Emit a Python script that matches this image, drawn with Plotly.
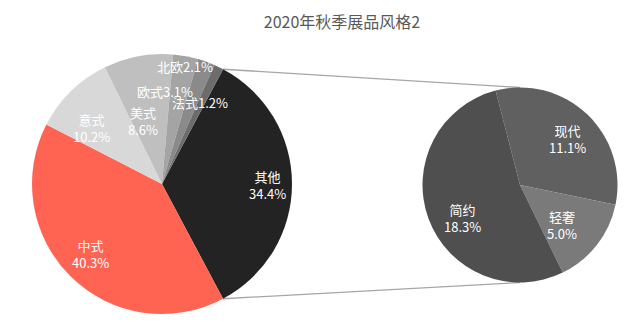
import math
import plotly.graph_objects as go

W, H = 640, 323

# Primary pie: 其他 is split out into the secondary pie
main_labels = ["其他", "中式", "意式", "美式", "欧式", "北欧", "法式"]
main_values = [34.4, 40.3, 10.2, 8.6, 3.1, 2.1, 1.2]
main_colors = ["#232323", "#ff6352", "#d8d8d8", "#bfbfbf", "#a4a4a4", "#8a8a8a", "#6c6c6c"]
main_sep = ["<br>", "<br>", "<br>", "<br>", "", "", ""]

# Secondary pie: breakdown of 其他
sub_labels = ["现代", "轻奢", "简约"]
sub_values = [11.1, 5.0, 18.3]
sub_colors = ["#606060", "#7a7a7a", "#4f4f4f"]
sub_sep = ["<br>", "<br>", "<br>"]

title_text = "2020年秋季展品风格2"

# Geometry (pixels)
LEFT_C, LEFT_R = (162, 184), 130
RIGHT_C, RIGHT_R = (520, 185), 97.5

# label placement: (angle clockwise from 12 o'clock, fraction of radius)
main_label_pos = [(90.5, 0.815), (225.8, 0.77), (308.7, 0.69), (343.2, 0.51),
                  (1.9, 0.71), (11.1, 0.92), (25.1, 0.69)]
sub_label_pos = [(46.2, 0.68), (133.6, 0.595), (240.4, 0.68)]

FONT = "Noto Sans CJK SC, Noto Sans, sans-serif"


def domain(c, r):
    cx, cy = c
    return dict(x=[(cx - r) / W, (cx + r) / W], y=[(H - cy - r) / H, (H - cy + r) / H])


def polar(c, r, ang, frac=1.0):
    a = math.radians(ang)
    return c[0] + frac * r * math.sin(a), c[1] - frac * r * math.cos(a)


def to_paper(p):
    return p[0] / W, 1 - p[1] / H


total_main = sum(main_values)
# 其他 slice is centred on 3 o'clock
left_rot = 90 - main_values[0] / total_main * 180
right_rot = -14.5

fig = go.Figure()
fig.add_trace(go.Pie(
    labels=main_labels, values=main_values, sort=False, direction="clockwise",
    rotation=left_rot, marker=dict(colors=main_colors, line=dict(width=0)),
    textinfo="none", hoverinfo="label+percent", domain=domain(LEFT_C, LEFT_R),
    showlegend=False,
))
fig.add_trace(go.Pie(
    labels=sub_labels, values=sub_values, sort=False, direction="clockwise",
    rotation=right_rot, marker=dict(colors=sub_colors, line=dict(width=0)),
    textinfo="none", hoverinfo="label+value", domain=domain(RIGHT_C, RIGHT_R),
    showlegend=False,
))

annotations = []
for lab, val, sep, (ang, fr) in zip(main_labels, main_values, main_sep, main_label_pos):
    x, y = to_paper(polar(LEFT_C, LEFT_R, ang, fr))
    annotations.append(dict(x=x, y=y, xref="paper", yref="paper", showarrow=False,
                            text=f"{lab}{sep}{val:.1f}%", xanchor="center", yanchor="middle",
                            align="center", font=dict(family=FONT, size=13, color="white")))
for lab, val, sep, (ang, fr) in zip(sub_labels, sub_values, sub_sep, sub_label_pos):
    x, y = to_paper(polar(RIGHT_C, RIGHT_R, ang, fr))
    annotations.append(dict(x=x, y=y, xref="paper", yref="paper", showarrow=False,
                            text=f"{lab}{sep}{val:.1f}%", xanchor="center", yanchor="middle",
                            align="center", font=dict(family=FONT, size=13, color="white")))

# connector lines from the split-out slice edges to the secondary pie
a_start = left_rot
a_end = left_rot + main_values[0] / total_main * 360
p1 = to_paper(polar(LEFT_C, LEFT_R, a_start))
p2 = to_paper(polar(LEFT_C, LEFT_R, a_end))
q1 = to_paper(polar(RIGHT_C, RIGHT_R, 0))
q2 = to_paper(polar(RIGHT_C, RIGHT_R, 180))
shapes = [
    dict(type="line", xref="paper", yref="paper", x0=p1[0], y0=p1[1], x1=q1[0], y1=q1[1],
         line=dict(color="#a6a6a6", width=1.3), layer="below"),
    dict(type="line", xref="paper", yref="paper", x0=p2[0], y0=p2[1], x1=q2[0], y1=q2[1],
         line=dict(color="#a6a6a6", width=1.3), layer="below"),
]

fig.update_layout(
    width=W, height=H, margin=dict(l=0, r=0, t=0, b=0),
    paper_bgcolor="white", plot_bgcolor="white",
    title=dict(text=title_text, x=342 / W, y=1 - 22 / H, xanchor="center", yanchor="middle",
               font=dict(family=FONT, size=16, color="#595959")),
    annotations=annotations, shapes=shapes,
)

fig.write_html("out.html")
